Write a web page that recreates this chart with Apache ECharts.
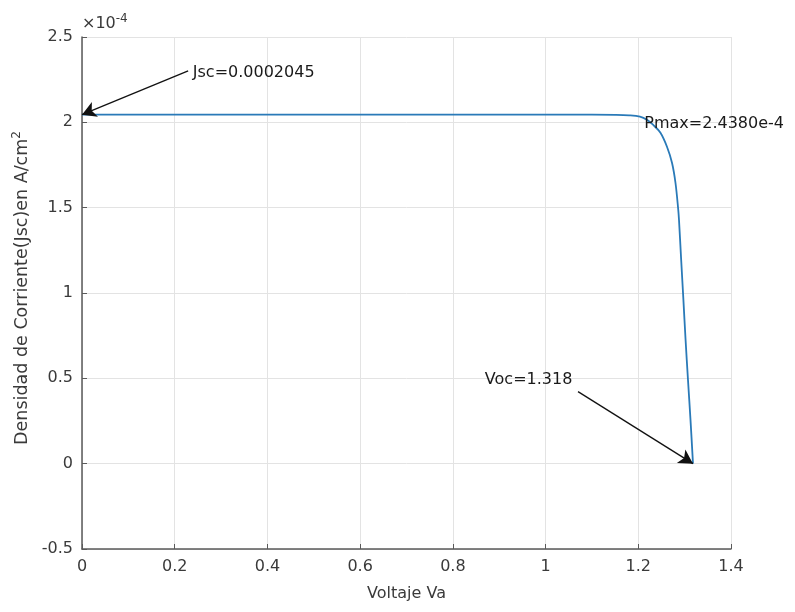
<!DOCTYPE html>
<html>
<head>
<meta charset="utf-8">
<script src="https://cdn.jsdelivr.net/npm/echarts@6/dist/echarts.min.js"></script>
<style>html,body{margin:0;padding:0;background:#fff}#c{width:795px;height:612px}</style>
</head>
<body>
<div id="c"></div>
<script>
// Voltage (V) and current density (x1e-4 A/cm^2)
const voltage = [0, 0.2, 0.4, 0.6, 0.8, 1.0, 1.1, 1.15, 1.18, 1.2036, 1.2187, 1.2317, 1.2478, 1.2619, 1.2727, 1.2802, 1.2862, 1.2878, 1.2925, 1.2973, 1.302, 1.3072, 1.3126, 1.318];
const density = [2.045, 2.045, 2.045, 2.045, 2.045, 2.045, 2.045, 2.044, 2.041, 2.033, 2.015, 1.986, 1.939, 1.857, 1.763, 1.646, 1.488, 1.429, 1.195, 0.961, 0.726, 0.492, 0.258, 0];
const xTicks = [0, 0.2, 0.4, 0.6, 0.8, 1, 1.2, 1.4];
const yTicks = [-0.5, 0, 0.5, 1, 1.5, 2, 2.5];
// annotations: text anchor [V, J] and arrows [from, to]
const jscText = 'Jsc=0.0002045', jscTextPos = [0.239, 2.29], jscArrow = [[0.229, 2.302], [0, 2.045]];
const vocText = 'Voc=1.318', vocTextPos = [0.869, 0.492], vocArrow = [[1.070, 0.422], [1.318, 0]];
const pmaxText = 'Pmax=2.4380e-4', pmaxTextPos = [1.213, 1.99];

const font = '"DejaVu Sans", "Liberation Sans", Arial, sans-serif';
const axisColor = '#5a5a5a';
const textColor = '#3a3a3a';
const chart = echarts.init(document.getElementById('c'), null, {renderer: 'canvas'});
const labelPoint = (t, p) => ({
  coord: p, value: t, symbol: 'circle', symbolSize: 0,
  label: {show: true, formatter: t, position: 'right', distance: 0, color: '#1a1a1a', fontSize: 16, fontFamily: font, align: 'left', verticalAlign: 'middle'}
});
const fmt = v => String(parseFloat(v.toFixed(1)));
chart.setOption({
  animation: false,
  grid: {left: 82, right: 64, top: 37, bottom: 63, containLabel: false},
  xAxis: {
    type: 'value', min: xTicks[0], max: xTicks[xTicks.length - 1], interval: 0.2,
    name: 'Voltaje Va', nameLocation: 'middle', nameGap: 37,
    nameTextStyle: {color: textColor, fontSize: 16, fontFamily: font},
    axisLine: {show: true, onZero: false, lineStyle: {color: axisColor, width: 1.5}},
    axisTick: {show: true, inside: true, length: 5, lineStyle: {color: axisColor}},
    axisLabel: {color: textColor, fontSize: 16, fontFamily: font, margin: 10, formatter: fmt},
    splitLine: {show: true, lineStyle: {color: '#e3e3e3', width: 1}}
  },
  yAxis: {
    type: 'value', min: yTicks[0], max: yTicks[yTicks.length - 1], interval: 0.5,
    name: '{t|×10}{s|-4}', nameLocation: 'end', nameGap: 2,
    nameTextStyle: {align: 'left', verticalAlign: 'bottom', padding: [0, 0, 0, 0],
      rich: {t: {fontSize: 16, fontFamily: font, color: textColor}, s: {fontSize: 12, fontFamily: font, color: textColor, verticalAlign: 'top', padding: [0, 0, 10, 0]}}},
    axisLine: {show: true, onZero: false, lineStyle: {color: axisColor, width: 1.5}},
    axisTick: {show: true, inside: true, length: 5, lineStyle: {color: axisColor}},
    axisLabel: {color: textColor, fontSize: 16, fontFamily: font, margin: 9, formatter: fmt},
    splitLine: {show: true, lineStyle: {color: '#e3e3e3', width: 1}}
  },
  graphic: [{
    type: 'text', x: 22, y: 288, rotation: Math.PI / 2,
    style: {
      text: '{a|Densidad de Corriente(Jsc)en A/cm}{s|2}',
      align: 'center', verticalAlign: 'middle',
      rich: {a: {fontSize: 17.5, fontFamily: font, fill: textColor, color: textColor}, s: {fontSize: 12, fontFamily: font, color: textColor, fill: textColor, verticalAlign: 'top', padding: [0, 0, 10, 0]}}
    }
  }],
  series: [{
    type: 'line', showSymbol: false, smooth: 0.35,
    data: voltage.map((v, i) => [v, density[i]]),
    lineStyle: {color: '#2a7ab8', width: 1.8},
    itemStyle: {color: '#2a7ab8'},
    markLine: {
      silent: true, symbol: ['none', 'arrow'], symbolSize: [12, 14],
      lineStyle: {color: '#111', width: 1.3, type: 'solid'},
      label: {show: false},
      data: [
        [{coord: jscArrow[0]}, {coord: jscArrow[1]}],
        [{coord: vocArrow[0]}, {coord: vocArrow[1]}]
      ]
    },
    markPoint: {
      silent: true,
      data: [labelPoint(jscText, jscTextPos), labelPoint(vocText, vocTextPos), labelPoint(pmaxText, pmaxTextPos)]
    }
  }]
});
</script>
</body>
</html>
